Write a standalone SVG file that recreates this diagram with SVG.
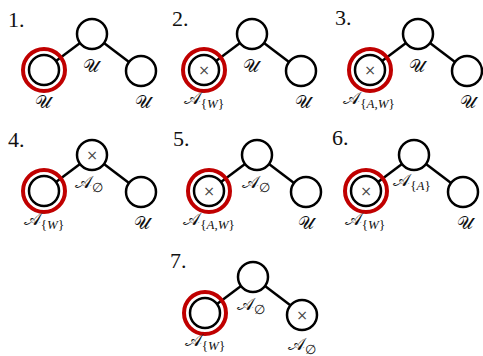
<svg xmlns="http://www.w3.org/2000/svg" width="483" height="356" viewBox="0 0 483 356">
<style>
.n{fill:#fff;stroke:#000;stroke-width:2.5}
.r{fill:none;stroke:#c00000;stroke-width:4}
.e{stroke:#000;stroke-width:2.5;fill:none}
.num{font-family:"Liberation Serif",serif;font-size:22px;fill:#111}
.lb{font-family:"Liberation Serif",serif;font-size:18px;fill:#111;text-anchor:middle;font-weight:normal}
.s{font-size:13px;font-family:"Liberation Serif",serif}
.si{font-size:13px;font-family:"Liberation Serif",serif;font-style:italic}
.x{font-family:"DejaVu Sans",sans-serif;font-size:14px;fill:#444;text-anchor:middle}
</style>
<rect width="483" height="356" fill="#fff"/>
<g id="connectors">
<line class="e" x1="56" y1="61" x2="80" y2="43"/><line class="e" x1="104" y1="43" x2="129" y2="62"/>
<line class="e" x1="216" y1="61" x2="240" y2="43"/><line class="e" x1="264" y1="43" x2="289" y2="62"/>
<line class="e" x1="382" y1="61" x2="406" y2="43"/><line class="e" x1="430" y1="43" x2="455" y2="62"/>
<line class="e" x1="56" y1="182" x2="80" y2="164"/><line class="e" x1="104" y1="164" x2="129" y2="183"/>
<line class="e" x1="221" y1="182" x2="245" y2="164"/><line class="e" x1="269" y1="164" x2="294" y2="183"/>
<line class="e" x1="378" y1="182" x2="402" y2="164"/><line class="e" x1="426" y1="164" x2="451" y2="183"/>
<line class="e" x1="217" y1="304" x2="241" y2="286"/><line class="e" x1="265" y1="286" x2="290" y2="305"/>
</g>
<g id="panel1">
<text class="num" x="8" y="27">1.</text>
<circle class="n" cx="92" cy="34" r="15"/><circle class="r" cx="44" cy="70" r="21"/><circle class="n" cx="44" cy="70" r="15"/><circle class="n" cx="141" cy="71" r="15"/>
<text class="lb" x="91" y="72">𝒰</text><text class="lb" x="43" y="108">𝒰</text><text class="lb" x="143" y="108">𝒰</text>
</g>
<g id="panel2">
<text class="num" x="172" y="26">2.</text>
<circle class="n" cx="252" cy="34" r="15"/><circle class="r" cx="204" cy="70" r="21"/><circle class="n" cx="204" cy="70" r="15"/><circle class="n" cx="301" cy="71" r="15"/>
<text class="x" x="204" y="75">×</text>
<text class="lb" x="251" y="72">𝒰</text><text class="lb" x="204" y="104">𝒜<tspan class="s" dy="4">{</tspan><tspan class="si">W</tspan><tspan class="s">}</tspan></text><text class="lb" x="303" y="108">𝒰</text>
</g>
<g id="panel3">
<text class="num" x="335" y="25">3.</text>
<circle class="n" cx="418" cy="34" r="15"/><circle class="r" cx="370" cy="70" r="21"/><circle class="n" cx="370" cy="70" r="15"/><circle class="n" cx="467" cy="71" r="15"/>
<text class="x" x="370" y="75">×</text>
<text class="lb" x="417" y="72">𝒰</text><text class="lb" x="369" y="104">𝒜<tspan class="s" dy="4">{</tspan><tspan class="si">A</tspan><tspan class="s">,</tspan><tspan class="si">W</tspan><tspan class="s">}</tspan></text><text class="lb" x="468" y="108">𝒰</text>
</g>
<g id="panel4">
<text class="num" x="8" y="147">4.</text>
<circle class="n" cx="92" cy="155" r="15"/><circle class="r" cx="44" cy="191" r="21"/><circle class="n" cx="44" cy="191" r="15"/><circle class="n" cx="141" cy="192" r="15"/>
<text class="x" x="92" y="160">×</text>
<text class="lb" x="89" y="188">𝒜<tspan class="s" dy="4">∅</tspan></text><text class="lb" x="44" y="225">𝒜<tspan class="s" dy="4">{</tspan><tspan class="si">W</tspan><tspan class="s">}</tspan></text><text class="lb" x="142" y="229">𝒰</text>
</g>
<g id="panel5">
<text class="num" x="173" y="146">5.</text>
<circle class="n" cx="257" cy="155" r="15"/><circle class="r" cx="209" cy="191" r="21"/><circle class="n" cx="209" cy="191" r="15"/><circle class="n" cx="306" cy="192" r="15"/>
<text class="x" x="209" y="196">×</text>
<text class="lb" x="256" y="188">𝒜<tspan class="s" dy="4">∅</tspan></text><text class="lb" x="209" y="225">𝒜<tspan class="s" dy="4">{</tspan><tspan class="si">A</tspan><tspan class="s">,</tspan><tspan class="si">W</tspan><tspan class="s">}</tspan></text><text class="lb" x="306" y="229">𝒰</text>
</g>
<g id="panel6">
<text class="num" x="332" y="145">6.</text>
<circle class="n" cx="414" cy="155" r="15"/><circle class="r" cx="366" cy="191" r="21"/><circle class="n" cx="366" cy="191" r="15"/><circle class="n" cx="463" cy="192" r="15"/>
<text class="x" x="366" y="196">×</text>
<text class="lb" x="412" y="186">𝒜<tspan class="s" dy="4">{</tspan><tspan class="si">A</tspan><tspan class="s">}</tspan></text><text class="lb" x="365" y="225">𝒜<tspan class="s" dy="4">{</tspan><tspan class="si">W</tspan><tspan class="s">}</tspan></text><text class="lb" x="465" y="229">𝒰</text>
</g>
<g id="panel7">
<text class="num" x="170" y="268">7.</text>
<circle class="n" cx="253" cy="277" r="15"/><circle class="r" cx="205" cy="313" r="21"/><circle class="n" cx="205" cy="313" r="15"/><circle class="n" cx="302" cy="315" r="15"/>
<text class="x" x="302" y="320">×</text>
<text class="lb" x="251" y="310">𝒜<tspan class="s" dy="4">∅</tspan></text><text class="lb" x="205" y="346">𝒜<tspan class="s" dy="4">{</tspan><tspan class="si">W</tspan><tspan class="s">}</tspan></text><text class="lb" x="302" y="350">𝒜<tspan class="s" dy="4">∅</tspan></text>
</g>
</svg>
